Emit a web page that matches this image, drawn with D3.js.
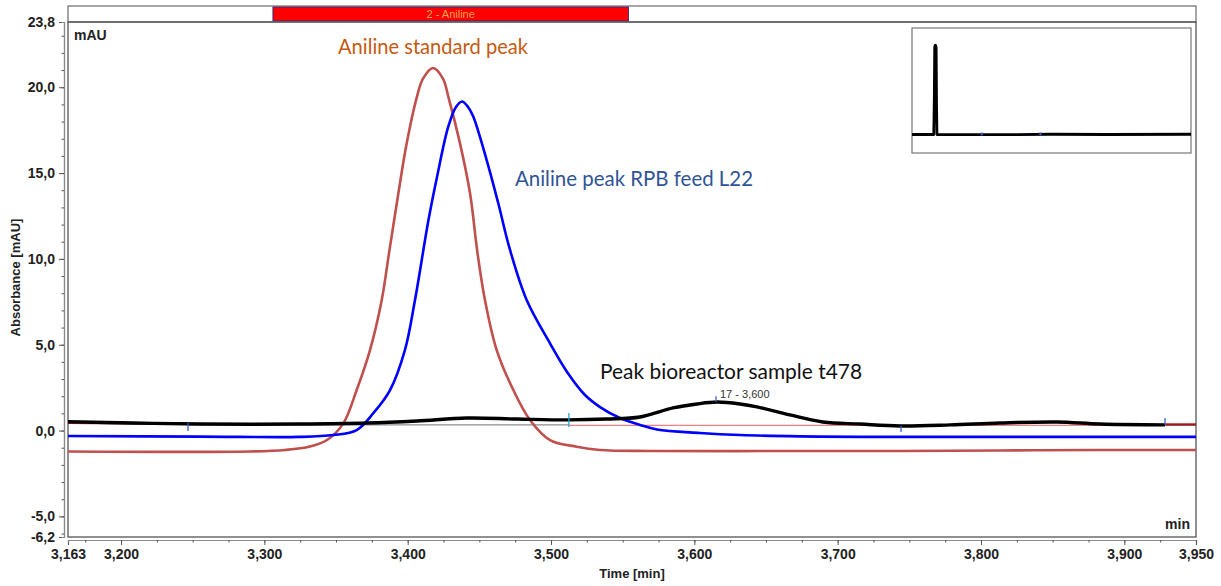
<!DOCTYPE html>
<html>
<head>
<meta charset="utf-8">
<script src="https://cdn.jsdelivr.net/npm/d3@7"></script>
<style>
  body { margin: 0; background: #fff; }
  svg text { font-family: "Liberation Sans", Arial, sans-serif; }
</style>
</head>
<body>
<svg id="chart" width="1221" height="586"></svg>
<script>
// chromatogram traces: [time (min), absorbance (mAU)]
const standardPeak = [
  [3.163, -1.22], [3.290, -1.22], [3.3144, -1.13], [3.3318, -0.93], [3.3437, -0.55],
  [3.3551, 0.42], [3.3644, 2.36], [3.3737, 4.69], [3.3819, 7.61], [3.3870, 10.35],
  [3.3935, 13.82], [3.3993, 16.73], [3.4063, 19.40], [3.4107, 20.50], [3.4177, 21.12],
  [3.4246, 20.50], [3.4285, 19.40], [3.4365, 16.73], [3.4435, 13.82], [3.4487, 10.35],
  [3.4539, 7.61], [3.4621, 4.69], [3.4737, 2.36], [3.4853, 0.62], [3.4993, -0.55],
  [3.5179, -0.94], [3.5342, -1.13], [3.5691, -1.19], [3.6737, -1.19], [3.7435, -1.19],
  [3.8132, -1.16], [3.8830, -1.13], [3.950, -1.13]
];

const feedPeak = [
  [3.163, -0.32], [3.2551, -0.35], [3.3249, -0.37], [3.3481, -0.26], [3.3644, 0.03],
  [3.3760, 1.01], [3.3877, 2.36], [3.3981, 4.70], [3.4051, 7.61], [3.4145, 12.27],
  [3.4205, 14.79], [3.4283, 17.70], [3.4337, 18.85], [3.4379, 19.17], [3.4421, 18.85],
  [3.4456, 18.32], [3.4551, 15.76], [3.4632, 13.24], [3.4714, 10.52], [3.4830, 7.61],
  [3.4993, 5.08], [3.5112, 3.41], [3.5237, 2.07], [3.5342, 1.37], [3.5481, 0.73],
  [3.5621, 0.33], [3.5739, 0.06], [3.6039, -0.14], [3.6319, -0.26], [3.6737, -0.34],
  [3.7156, -0.37], [3.8132, -0.37], [3.950, -0.37]
];

const bioreactorPeak = [
  [3.163, 0.52], [3.2083, 0.44], [3.2551, 0.38], [3.3249, 0.38], [3.3716, 0.44],
  [3.4065, 0.56], [3.4414, 0.73], [3.4763, 0.67], [3.5112, 0.62], [3.5391, 0.67],
  [3.5621, 0.79], [3.5851, 1.32], [3.6019, 1.55], [3.6158, 1.66], [3.6318, 1.55],
  [3.6437, 1.38], [3.6667, 0.91], [3.6897, 0.50], [3.7156, 0.38], [3.7435, 0.27],
  [3.7784, 0.33], [3.8132, 0.44], [3.8530, 0.50], [3.8830, 0.38], [3.9284, 0.33]
];

// integration baselines and peak delimiters
const grayBaseline = [[3.2467, 0.33], [3.5125, 0.33]];
const pinkBaseline = [[3.5125, 0.30], [3.9284, 0.30]];
const redStubs = [
  [[3.163, 0.46], [3.246, 0.40]],
  [[3.9284, 0.35], [3.950, 0.35]]
];
const delimiters = [
  { t: 3.2467, from: -0.02, to: 0.44, color: "#3a5fcd" },
  { t: 3.5125, from: 0.21, to: 1.03, color: "#1fa9d6" },
  { t: 3.6151, from: 1.66, to: 2.0, color: "#3a5fcd" },
  { t: 3.7442, from: -0.08, to: 0.27, color: "#3a5fcd" },
  { t: 3.9284, from: 0.33, to: 0.73, color: "#3a5fcd" }
];

const peakWindow = { name: "2 - Aniline", start: 3.306, end: 3.554 };
const peakLabel = { text: "17 - 3,600", t: 3.6179, v: 1.9 };

const yMajorTicks = [-6.2, -5, 0, 5, 10, 15, 20, 23.8];
const yMinorTicks = d3.range(-6, 24, 1);
const xMajorTicks = [3.163, 3.2, 3.3, 3.4, 3.5, 3.6, 3.7, 3.8, 3.9, 3.95];
const xMinorTicks = d3.range(3.175, 3.951, 0.025);

// overview inset trace (full run)
const overviewTrace = [
  [0, 0], [0.78, 0], [0.80, 80], [0.815, 190], [0.84, 193], [0.865, 188],
  [0.88, 60], [0.895, 0], [3, -0.5], [5, 0.5], [7, 0], [10, 0.5]
];
const overviewMarks = [2.5, 4.6];

const annotations = [
  { text: "Aniline standard peak", t: 3.3514, v: 21.93, color: "#c55a11", width: 190 },
  { text: "Aniline peak RPB feed L22", t: 3.4749, v: 14.25, color: "#2f5496", width: 238 },
  { text: "Peak bioreactor sample t478", t: 3.5342, v: 3.0, color: "#111", width: 262 }
];

const svg = d3.select("#chart");
const width = 1221;
const margin = { top: 22, right: 25, bottom: 49, left: 68 };
const plotRight = width - margin.right; // 1196
const plotBottom = 586 - margin.bottom;  // 537

const x = d3.scaleLinear().domain([3.163, 3.950]).range([margin.left, plotRight]);
const y = d3.scaleLinear().domain([-6.2, 23.8]).range([plotBottom, margin.top]);

const fmt = (d, n) => d.toFixed(n).replace(".", ",");

svg.append("defs").append("clipPath").attr("id", "plotClip")
  .append("rect")
  .attr("x", margin.left).attr("y", margin.top)
  .attr("width", plotRight - margin.left).attr("height", plotBottom - margin.top);

// banner strip with peak window
svg.append("rect")
  .attr("x", margin.left).attr("y", 6)
  .attr("width", plotRight - margin.left).attr("height", margin.top - 6)
  .attr("fill", "#fff").attr("stroke", "#6b6b6b").attr("stroke-width", 1.2);

svg.append("rect")
  .attr("x", x(peakWindow.start)).attr("y", 7)
  .attr("width", x(peakWindow.end) - x(peakWindow.start)).attr("height", 14)
  .attr("fill", "#ff0000").attr("stroke", "#3b2a7a").attr("stroke-width", 1);

svg.append("text")
  .attr("x", (x(peakWindow.start) + x(peakWindow.end)) / 2).attr("y", 18)
  .attr("text-anchor", "middle")
  .attr("font-size", 11)
  .attr("fill", "#ffa64d")
  .text(peakWindow.name);

// plot frame
svg.append("rect")
  .attr("x", margin.left).attr("y", margin.top)
  .attr("width", plotRight - margin.left).attr("height", plotBottom - margin.top)
  .attr("fill", "none").attr("stroke", "#555").attr("stroke-width", 1.3);

// y axis
const yAxisX = margin.left - 4;
const yMajor = svg.append("g")
  .attr("transform", `translate(${yAxisX},0)`)
  .call(d3.axisLeft(y).tickValues(yMajorTicks).tickSize(5).tickPadding(4)
    .tickFormat(d => fmt(d, 1)));
const yMinor = svg.append("g")
  .attr("transform", `translate(${yAxisX},0)`)
  .call(d3.axisLeft(y).tickValues(yMinorTicks).tickSize(2.5).tickFormat(""));

// x axis
const xAxisY = plotBottom + 3;
const xMajor = svg.append("g")
  .attr("transform", `translate(0,${xAxisY})`)
  .call(d3.axisBottom(x).tickValues(xMajorTicks).tickSize(5).tickPadding(4)
    .tickFormat(d => fmt(d, 3)));
const xMinor = svg.append("g")
  .attr("transform", `translate(0,${xAxisY})`)
  .call(d3.axisBottom(x).tickValues(xMinorTicks).tickSize(2.5).tickFormat(""));

[yMajor, yMinor, xMajor, xMinor].forEach(g => {
  g.select(".domain").attr("stroke", "#8a8a8a").attr("stroke-width", 1.2);
  g.selectAll(".tick line").attr("stroke", "#555");
  g.selectAll("text")
    .attr("font-size", 14).attr("font-weight", "bold").attr("fill", "#222")
    .style("font-family", "'Liberation Sans', Arial, sans-serif");
});

// axis titles and units
svg.append("text")
  .attr("x", (margin.left + plotRight) / 2).attr("y", 578)
  .attr("text-anchor", "middle")
  .attr("font-size", 13).attr("font-weight", "bold").attr("fill", "#222")
  .text("Time [min]");

svg.append("text")
  .attr("transform", `translate(20,${(margin.top + plotBottom) / 2 - 2}) rotate(-90)`)
  .attr("text-anchor", "middle")
  .attr("font-size", 13).attr("font-weight", "bold").attr("fill", "#222")
  .text("Absorbance [mAU]");

svg.append("text")
  .attr("x", margin.left + 6).attr("y", 40)
  .attr("font-size", 14).attr("font-weight", "bold").attr("fill", "#222")
  .text("mAU");

svg.append("text")
  .attr("x", plotRight - 6).attr("y", 529)
  .attr("text-anchor", "end")
  .attr("font-size", 14).attr("font-weight", "bold").attr("fill", "#222")
  .text("min");

// traces
const line = d3.line()
  .x(d => x(d[0]))
  .y(d => y(d[1]))
  .curve(d3.curveCatmullRom.alpha(0.5));

const straight = d3.line().x(d => x(d[0])).y(d => y(d[1]));

const plot = svg.append("g").attr("clip-path", "url(#plotClip)");

plot.append("path").datum(grayBaseline)
  .attr("d", straight)
  .attr("fill", "none").attr("stroke", "#8c8c8c").attr("stroke-width", 1.2);

plot.append("path").datum(pinkBaseline)
  .attr("d", straight)
  .attr("fill", "none").attr("stroke", "#f08080").attr("stroke-width", 1.2);

plot.selectAll("path.stub")
  .data(redStubs)
  .join("path")
  .attr("class", "stub")
  .attr("d", straight)
  .attr("fill", "none").attr("stroke", "#9b1c1c").attr("stroke-width", 2.5);

plot.append("path").datum(standardPeak)
  .attr("d", line)
  .attr("fill", "none").attr("stroke", "#c0504d").attr("stroke-width", 2.6);

plot.append("path").datum(feedPeak)
  .attr("d", line)
  .attr("fill", "none").attr("stroke", "#0000ff").attr("stroke-width", 2.6);

plot.append("path").datum(bioreactorPeak)
  .attr("d", line)
  .attr("fill", "none").attr("stroke", "#000").attr("stroke-width", 3.4);

plot.selectAll("line.delim")
  .data(delimiters)
  .join("line")
  .attr("class", "delim")
  .attr("x1", d => x(d.t)).attr("x2", d => x(d.t))
  .attr("y1", d => y(d.from)).attr("y2", d => y(d.to))
  .attr("stroke", d => d.color).attr("stroke-width", 1.3);

svg.append("text")
  .attr("x", x(peakLabel.t)).attr("y", y(peakLabel.v))
  .attr("font-size", 11).attr("fill", "#333")
  .text(peakLabel.text);

// annotations
svg.selectAll("text.note")
  .data(annotations)
  .join("text")
  .attr("class", "note")
  .attr("x", d => x(d.t)).attr("y", d => y(d.v))
  .style("font-family", "Lato, 'Noto Sans', sans-serif")
  .attr("font-size", 21)
  .attr("fill", d => d.color)
  .attr("textLength", d => d.width)
  .attr("lengthAdjust", "spacingAndGlyphs")
  .text(d => d.text);

// overview inset
const inset = { left: 912, top: 28, width: 279, height: 125 };
const ix = d3.scaleLinear().domain([0, 10]).range([inset.left, inset.left + inset.width]);
const iy = d3.scaleLinear().domain([-40, 230]).range([inset.top + inset.height, inset.top]);

svg.append("rect")
  .attr("x", inset.left).attr("y", inset.top)
  .attr("width", inset.width).attr("height", inset.height)
  .attr("fill", "#fff").attr("stroke", "#777").attr("stroke-width", 1.2);

svg.append("path").datum(overviewTrace)
  .attr("d", d3.line().x(d => ix(d[0])).y(d => iy(d[1])))
  .attr("fill", "none").attr("stroke", "#000").attr("stroke-width", 2.8)
  .attr("stroke-linejoin", "round");

svg.selectAll("line.imark")
  .data(overviewMarks)
  .join("line")
  .attr("class", "imark")
  .attr("x1", d => ix(d)).attr("x2", d => ix(d))
  .attr("y1", iy(0) - 2).attr("y2", iy(0) + 1)
  .attr("stroke", "#3a5fcd").attr("stroke-width", 2);
</script>
</body>
</html>
